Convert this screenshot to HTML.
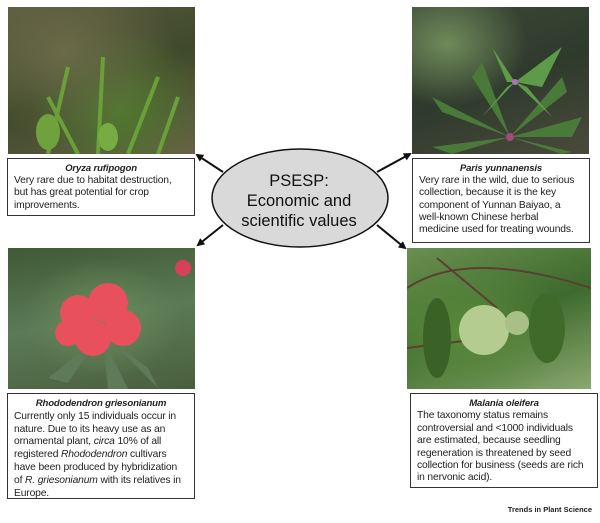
<!DOCTYPE html>
<html><head><style>
body{margin:0;width:600px;height:523px;background:#fff;position:relative;overflow:hidden;font-family:"Liberation Sans",sans-serif}
.ph{position:absolute;overflow:hidden}
.bx{position:absolute;border:1.5px solid #333;box-sizing:border-box;background:#fff;font-size:10.3px;line-height:12.2px;color:#222;padding:4px 6px 0 6px;letter-spacing:-0.15px;white-space:nowrap}
.bx .t{text-align:center;font-weight:bold;font-style:italic;font-size:9.6px}
</style></head><body>
<div class="ph" style="left:8px;top:7px;width:187px;height:147px;background:radial-gradient(ellipse at 30% 30%,#6a6a48,transparent 60%),radial-gradient(ellipse at 60% 70%,#4f7a2e,transparent 55%),linear-gradient(160deg,#5b5a3f,#3f4a2a 50%,#6a6048)">
<svg width="187" height="147"><g stroke="#6aa03a" stroke-width="4" fill="none"><path d="M40 147 L60 60"/><path d="M90 147 L95 50"/><path d="M120 147 L150 70"/><path d="M70 147 L40 90"/><path d="M150 147 L170 90"/></g><ellipse cx="40" cy="125" rx="12" ry="18" fill="#6fa23c"/><ellipse cx="100" cy="130" rx="10" ry="14" fill="#79ab44"/></svg></div>
<div class="ph" style="left:412px;top:7px;width:177px;height:147px;background:radial-gradient(ellipse at 20% 25%,#6f8a5a,transparent 40%),linear-gradient(160deg,#3e4a36,#2e3a2c 50%,#4a4a3c)">
<svg width="177" height="147"><g fill="#4a7a3a"><path d="M98 130 L20 90 L30 105Z"/><path d="M98 130 L170 110 L160 130Z"/><path d="M98 130 L20 140 L40 147Z"/><path d="M98 130 L160 145 L150 147Z"/><path d="M98 130 L70 55 L60 70Z"/><path d="M98 130 L150 70 L155 85Z"/></g><g fill="#5e9a48"><path d="M103 75 L80 40 L95 75Z"/><path d="M103 75 L150 40 L130 80Z"/><path d="M103 75 L140 110 L115 80Z"/><path d="M103 75 L70 110 L95 80Z"/></g><circle cx="98" cy="130" r="4" fill="#a04a80"/><circle cx="103" cy="75" r="3" fill="#b070c0"/></svg></div>
<div class="ph" style="left:8px;top:248px;width:187px;height:141px;background:radial-gradient(ellipse at 50% 50%,#6a8a5a,transparent 60%),linear-gradient(170deg,#3f5a34,#5b7a56 50%,#4a5e3e)">
<svg width="187" height="141"><g fill="#5e7a58"><path d="M90 90 L40 130 L60 135Z"/><path d="M100 90 L150 140 L140 120Z"/><path d="M95 90 L120 141 L100 141Z"/></g><g fill="#e8505e"><circle cx="70" cy="65" r="18"/><circle cx="100" cy="55" r="20"/><circle cx="115" cy="80" r="18"/><circle cx="85" cy="90" r="18"/><circle cx="60" cy="85" r="13"/></g><circle cx="175" cy="20" r="8" fill="#d8405a"/></svg></div>
<div class="ph" style="left:407px;top:248px;width:184px;height:141px;background:radial-gradient(ellipse at 30% 60%,#5a8a3a,transparent 60%),linear-gradient(160deg,#6a9050,#3e6a2e 50%,#8aa870)">
<svg width="184" height="141"><g stroke="#5a4030" stroke-width="2" fill="none"><path d="M0 40 Q60 0 184 40"/><path d="M30 10 L90 60"/><path d="M0 100 L80 90"/></g><ellipse cx="140" cy="80" rx="18" ry="35" fill="#3f6a2a"/><ellipse cx="30" cy="90" rx="14" ry="40" fill="#3a6226"/><circle cx="77" cy="82" r="25" fill="#b5cc90"/><circle cx="110" cy="75" r="12" fill="#a8c088"/></svg></div>

<div class="bx" style="left:7px;top:158px;width:188px;height:58px"><div class="t">Oryza rufipogon</div>Very rare due to habitat destruction,<br>but has great potential for crop<br>improvements.</div>
<div class="bx" style="left:412px;top:158px;width:178px;height:85px"><div class="t">Paris yunnanensis</div>Very rare in the wild, due to serious<br>collection, because it is the key<br>component of Yunnan Baiyao, a<br>well-known Chinese herbal<br>medicine used for treating wounds.</div>
<div class="bx" style="left:7px;top:393px;width:188px;height:106px;line-height:12.8px"><div class="t">Rhododendron griesonianum</div>Currently only 15 individuals occur in<br>nature. Due to its heavy use as an<br>ornamental plant, <i>circa</i> 10% of all<br>registered <i>Rhododendron</i> cultivars<br>have been produced by hybridization<br>of <i>R. griesonianum</i> with its relatives in<br>Europe.</div>
<div class="bx" style="left:410px;top:393px;width:188px;height:95px;line-height:12.4px"><div class="t">Malania oleifera</div>The taxonomy status remains<br>controversial and &lt;1000 individuals<br>are estimated, because seedling<br>regeneration is threatened by seed<br>collection for business (seeds are rich<br>in nervonic acid).</div>

<svg style="position:absolute;left:0;top:0" width="600" height="523">
<defs><marker id="a" markerWidth="8" markerHeight="8" refX="6" refY="4" orient="auto" markerUnits="userSpaceOnUse"><path d="M0 0 L8 4 L0 8Z" fill="#111"/></marker></defs>
<g stroke="#111" stroke-width="2" marker-end="url(#a)"><line x1="223" y1="172" x2="197" y2="155"/><line x1="377" y1="172" x2="410" y2="154"/><line x1="223" y1="225" x2="198" y2="245"/><line x1="377" y1="225" x2="405" y2="248"/></g>
<ellipse cx="300" cy="198" rx="88" ry="49" fill="#d9d9d9" stroke="#111" stroke-width="1.5"/>
<g font-family="Liberation Sans,sans-serif" font-size="16.5" fill="#111" text-anchor="middle"><text x="299" y="186">PSESP:</text><text x="299" y="206">Economic and</text><text x="299" y="226">scientific values</text></g>
<text x="592" y="512" font-family="Liberation Sans,sans-serif" font-size="7.5" font-weight="bold" text-anchor="end" fill="#222">Trends in Plant Science</text>
</svg>
</body></html>
